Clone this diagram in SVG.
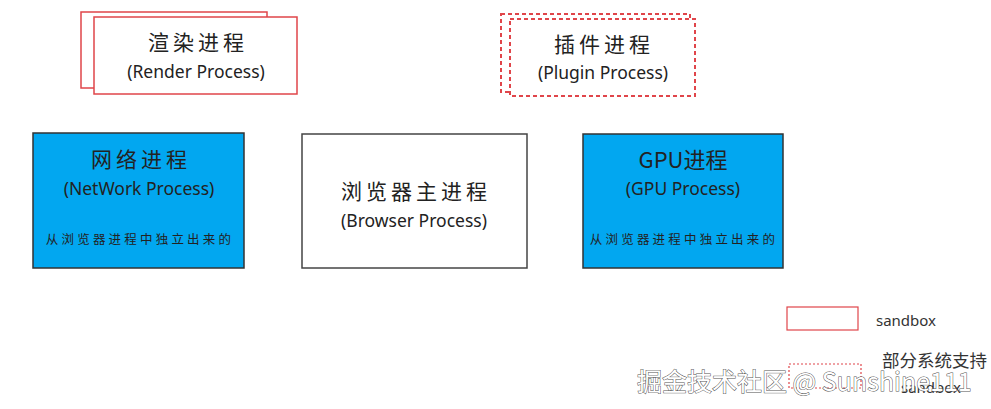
<svg xmlns="http://www.w3.org/2000/svg" width="991" height="409" viewBox="0 0 991 409">
<style>
  .t { font-family: "Noto Sans CJK SC", "Noto Sans", sans-serif; fill: #222; text-anchor: middle; dominant-baseline: central; }
  .zh { font-size: 21px; letter-spacing: 4px; }
  .en { font-family: "Noto Sans", "Noto Sans CJK SC", sans-serif; font-size: 17.5px; }
  .sm { font-size: 12.5px; letter-spacing: 3.2px; }
  .red { fill: #fff; stroke: #E0454A; stroke-width: 1.5; }
  .dash { fill: #fff; stroke: #E0454A; stroke-width: 2; stroke-dasharray: 4 3; }
  .blue { fill: #02A7F0; stroke: #333; stroke-width: 1.5; }
  .white { fill: #fff; stroke: #444; stroke-width: 1.5; }
  .lg { font-family: "Noto Sans", "Noto Sans CJK SC", sans-serif; fill: #333; font-size: 15px; dominant-baseline: central; }
  .lgzh { font-family: "Noto Sans CJK SC", sans-serif; fill: #333; font-size: 17.5px; dominant-baseline: central; }
  .wm { font-family: "Noto Sans CJK SC", "Noto Sans", sans-serif; font-size: 25px; fill: #fff; stroke: #555; stroke-width: 1; paint-order: stroke; dominant-baseline: central; }
</style>
<rect width="991" height="409" fill="#fff"/>
<g id="connectors"></g>
<g id="render">
  <rect class="red" x="81" y="12" width="186" height="76"/>
  <rect class="red" x="94" y="17" width="203" height="77"/>
  <text class="t zh" x="198" y="41">渲染进程</text>
  <text class="t en" x="196" y="71">(Render Process)</text>
</g>
<g id="plugin">
  <rect class="dash" x="501" y="14" width="189" height="78"/>
  <rect class="dash" x="510" y="19" width="185" height="77"/>
  <text class="t zh" x="604" y="43">插件进程</text>
  <text class="t en" x="603" y="72">(Plugin Process)</text>
</g>
<g id="network">
  <rect class="blue" x="33" y="133" width="211" height="135"/>
  <text class="t zh" x="141" y="158">网络进程</text>
  <text class="t en" x="139" y="188">(NetWork Process)</text>
  <text class="t sm" x="140" y="238">从浏览器进程中独立出来的</text>
</g>
<g id="browser">
  <rect class="white" x="302" y="134" width="225" height="134"/>
  <text class="t zh" x="416" y="190">浏览器主进程</text>
  <text class="t en" x="414" y="220">(Browser Process)</text>
</g>
<g id="gpu">
  <rect class="blue" x="583" y="134" width="200" height="134"/>
  <text class="t" x="683" y="158" style="font-size:22px">GPU进程</text>
  <text class="t en" x="683" y="188">(GPU Process)</text>
  <text class="t sm" x="684" y="238">从浏览器进程中独立出来的</text>
</g>
<g id="legend">
  <rect x="787" y="307" width="71" height="23" fill="#fff" stroke="#E0454A" stroke-width="1.2"/>
  <text class="lg" x="876" y="320">sandbox</text>
  <rect x="789" y="364" width="72" height="24" fill="none" stroke="#E0454A" stroke-width="1.2" stroke-dasharray="2 2"/>
  <text class="lgzh" x="882" y="359">部分系统支持</text>
  <text class="lg" x="901" y="387">sandbox</text>
</g>
<text class="wm" x="637" y="380">掘金技术社区 @ Sunshine111</text>
</svg>
